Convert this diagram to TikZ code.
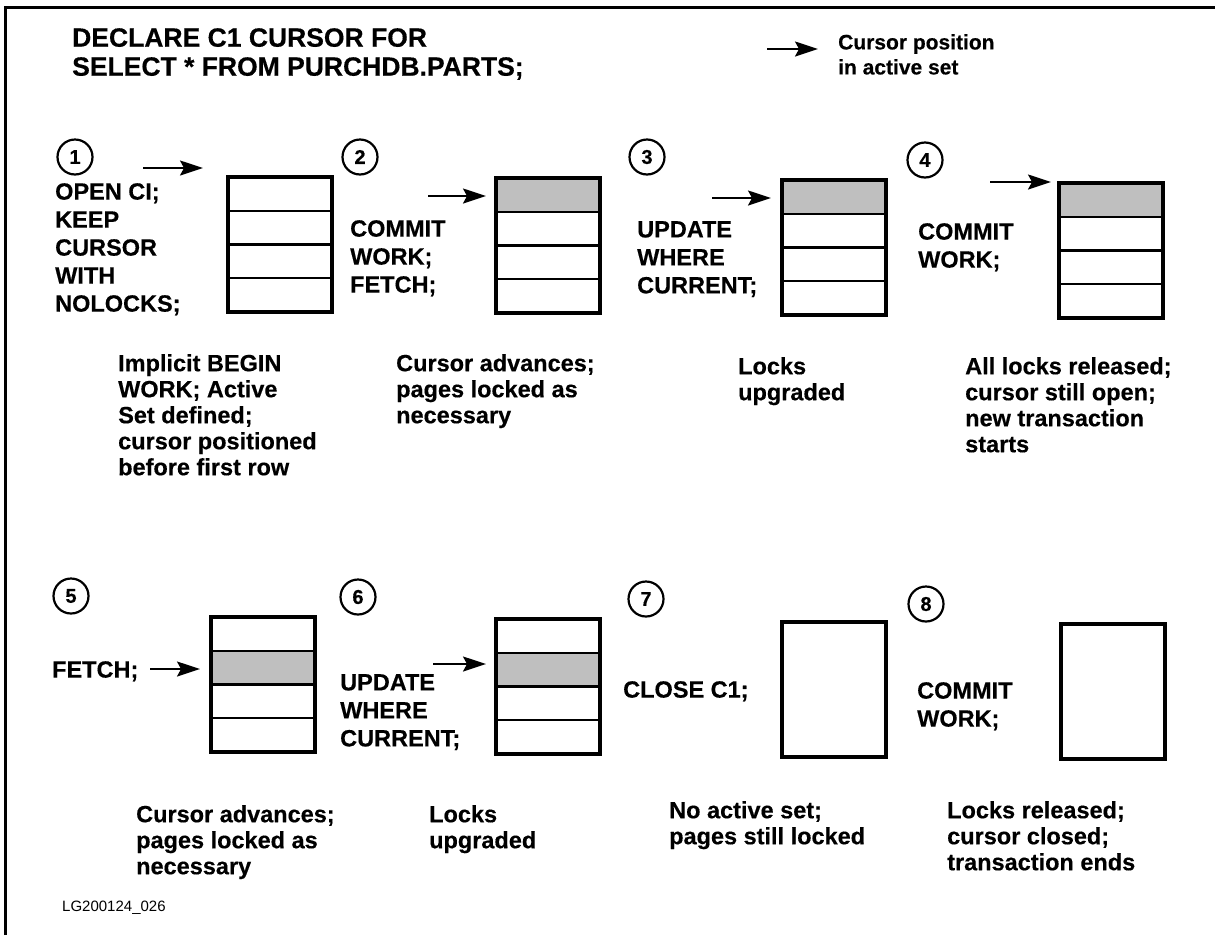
\documentclass[tikz,border=0pt]{standalone}
\usepackage{fontspec}
\setmainfont{Liberation Sans}[BoldFeatures={FakeBold=0.4}]
\usetikzlibrary{arrows.meta}
\tikzset{
  every node/.style={inner sep=0pt},
  cmd/.style={anchor=north west, align=left, font=\bfseries\fontsize{23.5}{28}\selectfont},
  note/.style={anchor=north west, align=left, font=\bfseries\fontsize{23.5}{26}\selectfont},
  head/.style={anchor=north west, align=left, font=\bfseries\fontsize{26.5}{29}\selectfont},
  legendtext/.style={anchor=north west, align=left, font=\bfseries\fontsize{21}{25}\selectfont},
  figid/.style={anchor=north west, font=\fontsize{15}{15}\selectfont},
  stepnum/.style={circle, draw, line width=2.2pt, minimum size=35pt, font=\bfseries\fontsize{20}{20}\selectfont},
  tablebox/.style={line width=3.2pt},
  tablerule/.style={line width=2.4pt},
  stipple/.style={fill=black!25},
  cursorarrow/.style={line width=1.8pt, -{Stealth[length=23pt,width=15pt,inset=4pt]}},
  frameline/.style={line width=3pt},
  pics/rowtable/.style={code={
    \draw[tablerule] (0,33.75) -- (104,33.75) (0,67.5) -- (104,67.5) (0,101.25) -- (104,101.25);
    \draw[tablebox] (0,0) rectangle (104,135);
  }},
  pics/emptytable/.style={code={
    \draw[tablebox] (0,0) rectangle (104,135);
  }},
}
\begin{document}
\begin{tikzpicture}[x=1pt,y=-1pt]
\useasboundingbox (0,0) rectangle (1215,935);
\draw[frameline] (5,935) -- (5,7) -- (1215,7);

% title and legend
\node[head] (title) at (72,28) {DECLARE C1 CURSOR FOR\\SELECT * FROM PURCHDB.PARTS;};
\coordinate (lgs) at (767,49);
\coordinate (lge) at (818,49);
\draw[cursorarrow] (lgs) -- (lge);
\node[legendtext] (legend) at (838,34) {Cursor position\\in active set};

% step 1
\node[stepnum] (n1) at (75,157) {1};
\node[cmd] (c1) at (55,183) {OPEN CI;\\KEEP\\CURSOR\\WITH\\NOLOCKS;};
\pic (t1) at (228,177) {rowtable};
\coordinate (a1s) at (143,168);
\coordinate (a1e) at (203,168);
\draw[cursorarrow] (a1s) -- (a1e);
\node[note] (d1) at (118,354) {Implicit BEGIN\\WORK; Active\\Set defined;\\cursor positioned\\before first row};

% step 2
\node[stepnum] (n2) at (360,157) {2};
\node[cmd] (c2) at (350,220) {COMMIT\\WORK;\\FETCH;};
\fill[stipple] (496,178) rectangle ++(104,33.75);
\pic (t2) at (496,178) {rowtable};
\coordinate (a2s) at (428,196);
\coordinate (a2e) at (486,196);
\draw[cursorarrow] (a2s) -- (a2e);
\node[note] (d2) at (396,354) {Cursor advances;\\pages locked as\\necessary};

% step 3
\node[stepnum] (n3) at (647,157) {3};
\node[cmd] (c3) at (637,221) {UPDATE\\WHERE\\CURRENT;};
\fill[stipple] (782,180) rectangle ++(104,33.75);
\pic (t3) at (782,180) {rowtable};
\coordinate (a3s) at (712,198);
\coordinate (a3e) at (771,198);
\draw[cursorarrow] (a3s) -- (a3e);
\node[note] (d3) at (738,357) {Locks\\upgraded};

% step 4
\node[stepnum] (n4) at (925,160) {4};
\node[cmd] (c4) at (918,223) {COMMIT\\WORK;};
\fill[stipple] (1059,183) rectangle ++(104,33.75);
\pic (t4) at (1059,183) {rowtable};
\coordinate (a4s) at (990,182);
\coordinate (a4e) at (1051,182);
\draw[cursorarrow] (a4s) -- (a4e);
\node[note] (d4) at (965,357) {All locks released;\\cursor still open;\\new transaction\\starts};

% step 5
\node[stepnum] (n5) at (71,596) {5};
\node[cmd] (c5) at (52,661) {FETCH;};
\fill[stipple] (211,650.75) rectangle ++(104,33.75);
\pic (t5) at (211,617) {rowtable};
\coordinate (a5s) at (150,669);
\coordinate (a5e) at (200,669);
\draw[cursorarrow] (a5s) -- (a5e);
\node[note] (d5) at (136,805) {Cursor advances;\\pages locked as\\necessary};

% step 6
\node[stepnum] (n6) at (358,597) {6};
\node[cmd] (c6) at (340,674) {UPDATE\\WHERE\\CURRENT;};
\fill[stipple] (496,652.75) rectangle ++(104,33.75);
\pic (t6) at (496,619) {rowtable};
\coordinate (a6s) at (433,664);
\coordinate (a6e) at (486,664);
\draw[cursorarrow] (a6s) -- (a6e);
\node[note] (d6) at (429,805) {Locks\\upgraded};

% step 7
\node[stepnum] (n7) at (646,599) {7};
\node[cmd] (c7) at (623,681) {CLOSE C1;};
\pic (t7) at (782,622) {emptytable};
\node[note] (d7) at (669,801) {No active set;\\pages still locked};

% step 8
\node[stepnum] (n8) at (926,604) {8};
\node[cmd] (c8) at (917,682) {COMMIT\\WORK;};
\pic (t8) at (1061,624) {emptytable};
\node[note] (d8) at (947,801) {Locks released;\\cursor closed;\\transaction ends};

\node[figid] (fid) at (62,901) {LG200124\_026};
\end{tikzpicture}
\end{document}
